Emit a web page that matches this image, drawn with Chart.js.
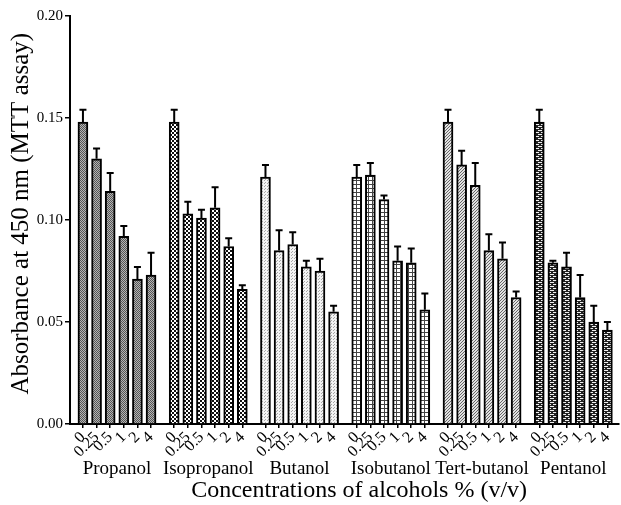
<!DOCTYPE html>
<html><head><meta charset="utf-8">
<script src="https://cdn.jsdelivr.net/npm/chart.js@4/dist/chart.umd.min.js"></script>
<style>html,body{margin:0;padding:0;background:#fff;}canvas{display:block;}</style>
</head><body>
<canvas id="c" width="621" height="505"></canvas>
<script>
const groups = ['Propanol','Isopropanol','Butanol','Isobutanol','Tert-butanol','Pentanol'];
const concentrations = ['0','0.25','0.5','1','2','4'];
const propanol = [0.148,0.130,0.114,0.092,0.071,0.073];
const propanolErr = [0.006,0.005,0.009,0.005,0.006,0.011];
const isopropanol = [0.148,0.103,0.101,0.106,0.087,0.066];
const isopropanolErr = [0.006,0.006,0.004,0.010,0.004,0.002];
const butanol = [0.121,0.085,0.088,0.077,0.075,0.055];
const butanolErr = [0.006,0.010,0.006,0.003,0.006,0.003];
const isobutanol = [0.121,0.122,0.110,0.080,0.079,0.056];
const isobutanolErr = [0.006,0.006,0.002,0.007,0.007,0.008];
const tertbutanol = [0.148,0.127,0.117,0.085,0.081,0.062];
const tertbutanolErr = [0.006,0.007,0.011,0.008,0.008,0.003];
const pentanol = [0.148,0.079,0.077,0.062,0.050,0.046];
const pentanolErr = [0.006,0.001,0.007,0.011,0.008,0.004];

const seriesValues = [propanol, isopropanol, butanol, isobutanol, tertbutanol, pentanol];
const seriesErrors = [propanolErr, isopropanolErr, butanolErr, isobutanolErr, tertbutanolErr, pentanolErr];

const GROUP_PITCH = 6.7;
const FONT = "'Liberation Serif', 'Times New Roman', serif";

const canvas = document.getElementById('c');
const ctx = canvas.getContext('2d');

function makePattern(w, h, draw) {
  const c = document.createElement('canvas');
  c.width = w; c.height = h;
  const g = c.getContext('2d');
  draw(g);
  return ctx.createPattern(c, 'repeat');
}
const patterns = [
  makePattern(2, 2, g => { g.fillStyle = '#b4b4b4'; g.fillRect(0,0,2,2); g.fillStyle = '#555'; g.fillRect(0,0,1,1); g.fillRect(1,1,1,1); }),
  makePattern(4, 4, g => { g.fillStyle = '#fff'; g.fillRect(0,0,4,4); g.fillStyle = '#111'; g.fillRect(0,0,2,2); g.fillRect(2,2,2,2); }),
  makePattern(3, 3, g => { g.fillStyle = '#f4f4f4'; g.fillRect(0,0,3,3); g.fillStyle = '#a8a8a8'; g.fillRect(0,0,1,1); g.fillRect(1,2,1,1); }),
  makePattern(4, 4, g => { g.fillStyle = '#fff'; g.fillRect(0,0,4,4); g.fillStyle = '#444'; g.fillRect(0,0,4,1); g.fillRect(0,0,1,4); }),
  makePattern(3, 3, g => { g.fillStyle = '#e2e2e2'; g.fillRect(0,0,3,3); g.fillStyle = '#666'; g.fillRect(0,2,1,1); g.fillRect(1,1,1,1); g.fillRect(2,0,1,1); }),
  makePattern(6, 4, g => { g.fillStyle = '#222'; g.fillRect(0,0,6,4); g.fillStyle = '#f0f0f0'; g.fillRect(1,0,4,1); g.fillRect(0,2,2,1); g.fillRect(4,2,2,1); })
];

const xOf = (g, i) => g * GROUP_PITCH + i;

const datasets = groups.map((name, g) => ({
  label: name,
  data: seriesValues[g].map((v, i) => ({ x: xOf(g, i), y: v })),
  backgroundColor: patterns[g],
  borderColor: '#000',
  borderWidth: 2,
  borderSkipped: 'start',
  barThickness: 10,
  grouped: false,
  errors: seriesErrors[g]
}));

const errorBars = {
  id: 'errorBars',
  afterDatasetsDraw(chart) {
    const c = chart.ctx;
    const ys = chart.scales.y;
    c.save();
    c.strokeStyle = '#000';
    c.lineWidth = 2;
    chart.data.datasets.forEach((ds, di) => {
      const meta = chart.getDatasetMeta(di);
      meta.data.forEach((el, i) => {
        const v = ds.data[i].y, e = ds.errors[i];
        const yTop = ys.getPixelForValue(v + e);
        const x = el.x;
        c.beginPath();
        c.moveTo(x, el.y);
        c.lineTo(x, yTop);
        c.moveTo(x - 3.5, yTop);
        c.lineTo(x + 3.5, yTop);
        c.stroke();
      });
    });
    c.restore();
  }
};

const barTicks = [];
groups.forEach((g, gi) => concentrations.forEach((c, i) => barTicks.push(xOf(gi, i))));
const groupCenters = groups.map((g, gi) => xOf(gi, (concentrations.length - 1) / 2));

Chart.defaults.font.family = FONT;
Chart.defaults.color = '#000';

new Chart(ctx, {
  type: 'bar',
  data: { datasets },
  plugins: [errorBars],
  options: {
    responsive: false,
    animation: false,
    layout: { padding: { top: 16, right: 2, left: 0, bottom: 0 } },
    plugins: { legend: { display: false }, tooltip: { enabled: false } },
    scales: {
      x: {
        type: 'linear',
        position: 'bottom',
        offset: false,
        min: -0.95,
        max: 39.3,
        afterBuildTicks: s => { s.ticks = barTicks.map(v => ({ value: v })); },
        afterFit: s => { s.height = 34; },
        grid: { display: true, drawOnChartArea: false, drawTicks: true, tickLength: 4, offset: false, color: '#000', lineWidth: 1.5 },
        border: { display: true, color: '#000', width: 2 },
        ticks: {
          autoSkip: false, minRotation: 45, maxRotation: 45, padding: 0,
          font: { size: 16, family: FONT },
          callback: (v, i) => concentrations[i % concentrations.length]
        }
      },
      x2: {
        type: 'linear',
        position: 'bottom',
        offset: false,
        min: -0.95,
        max: 39.3,
        afterBuildTicks: s => { s.ticks = groupCenters.map(v => ({ value: v })); },
        afterFit: s => { s.height = 47; },
        grid: { display: false, drawTicks: false },
        border: { display: false },
        ticks: {
          autoSkip: false, minRotation: 0, maxRotation: 0, padding: 0,
          font: { size: 19, family: FONT },
          callback: (v, i) => groups[i]
        },
        title: {
          display: true,
          text: '     Concentrations of alcohols % (v/v)',
          font: { size: 24, family: FONT },
          padding: { top: 0, bottom: 0 }
        }
      },
      y: {
        min: 0, max: 0.2,
        afterFit: s => { s.width = 70; },
        ticks: { stepSize: 0.05, padding: 2, font: { size: 15, family: FONT }, callback: v => Number(v).toFixed(2) },
        grid: { display: true, drawOnChartArea: false, drawTicks: true, tickLength: 5, color: '#000', lineWidth: 1.5 },
        border: { display: true, color: '#000', width: 2 },
        title: {
          display: true,
          text: '  Absorbance at 450 nm (MTT assay)',
          font: { size: 25, family: FONT },
          padding: { top: 6, bottom: 0 }
        }
      }
    }
  }
});
</script>
</body></html>
